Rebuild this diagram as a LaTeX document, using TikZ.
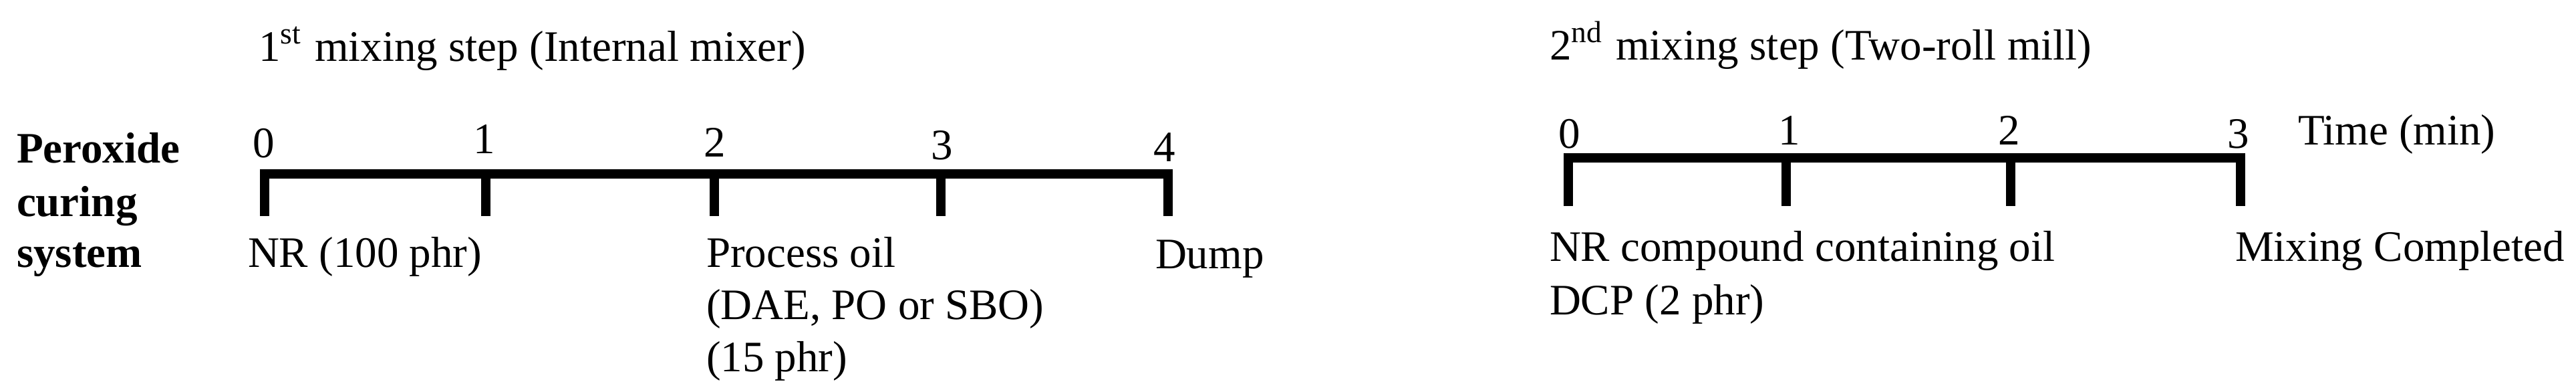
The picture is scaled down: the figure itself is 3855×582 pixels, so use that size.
\documentclass[tikz,border=0pt]{standalone}
\usepackage{fontspec}
\setmainfont{Liberation Serif}
\begin{document}
\begin{tikzpicture}[x=0.1pt,y=-0.1pt,
  lbl/.style={inner sep=0pt, anchor=base west, font=\fontsize{6.5}{7.8}\selectfont},
  boldlbl/.style={lbl, font=\fontsize{6.5}{7.8}\selectfont\bfseries},
  num/.style={inner sep=0pt, anchor=base, font=\fontsize{6.5}{7.8}\selectfont},
  bar/.style={line width=1.4pt, line join=miter, line cap=butt},
  tickline/.style={line width=1.4pt, line cap=butt}]
\useasboundingbox (0,0) rectangle (3855,582);
% titles
\node[lbl] (t1) at (385,91) {1\textsuperscript{st} mixing step (Internal mixer)};
\node[lbl] (t2) at (2317,89) {2\textsuperscript{nd} mixing step (Two-roll mill)};
% system label
\node[boldlbl] (p1) at (23,243) {Peroxide};
\node[boldlbl] (p2) at (23,323) {curing};
\node[boldlbl] (p3) at (23,399) {system};
% timeline 1
\coordinate (a0) at (396,260); \coordinate (a0b) at (396,323);
\coordinate (a1) at (727,260); \coordinate (a1b) at (727,323);
\coordinate (a2) at (1069,260); \coordinate (a2b) at (1069,323);
\coordinate (a3) at (1408,260); \coordinate (a3b) at (1408,323);
\coordinate (a4) at (1748,260); \coordinate (a4b) at (1748,323);
\draw[bar] (a0b) -- (a0) -- (a4) -- (a4b);
\draw[tickline] (a1) -- (a1b);
\draw[tickline] (a2) -- (a2b);
\draw[tickline] (a3) -- (a3b);
\node[num] (n0) at (395,235) {0};
\node[num] (n1) at (725,229) {1};
\node[num] (n2) at (1070,234) {2};
\node[num] (n3) at (1410,238) {3};
\node[num] (n4) at (1743,241) {4};
\node[lbl] (nr) at (369,399) {NR (100 phr)};
\node[lbl] (po1) at (1055,399) {Process oil};
\node[lbl] (po2) at (1055,477) {(DAE, PO or SBO)};
\node[lbl] (po3) at (1055,555) {(15 phr)};
\node[lbl] (dump) at (1727,401) {Dump};
% timeline 2
\coordinate (b0) at (2347,236); \coordinate (b0b) at (2347,308);
\coordinate (b1) at (2673,236); \coordinate (b1b) at (2673,308);
\coordinate (b2) at (3009,236); \coordinate (b2b) at (3009,308);
\coordinate (b3) at (3353,236); \coordinate (b3b) at (3353,308);
\draw[bar] (b0b) -- (b0) -- (b3) -- (b3b);
\draw[tickline] (b1) -- (b1b);
\draw[tickline] (b2) -- (b2b);
\node[num] (m0) at (2349,221) {0};
\node[num] (m1) at (2678,216) {1};
\node[num] (m2) at (3007,216) {2};
\node[num] (m3) at (3350,221) {3};
\node[lbl] (time) at (3437,216) {Time (min)};
\node[lbl] (nrc) at (2317,390) {NR compound containing oil};
\node[lbl] (dcp) at (2317,470) {DCP (2 phr)};
\node[lbl] (done) at (3343,390) {Mixing Completed};
\end{tikzpicture}
\end{document}
